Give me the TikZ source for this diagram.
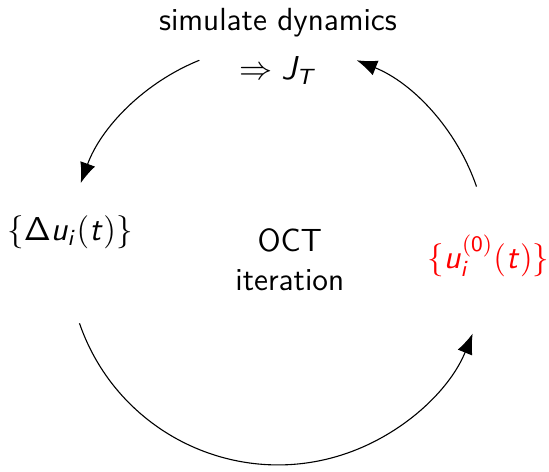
\documentclass[tikz,border=0pt,11pt]{standalone}
\usetikzlibrary{arrows.meta, calc}
\DeclareMathAlphabet{\mathsfit}{OT1}{cmss}{m}{sl}

\begin{document}
\begin{tikzpicture}[
    stage/.style={align=center, font=\fontsize{11.6}{13.9}\selectfont\sffamily},
    cyc/.style={-{Latex[length=2.6mm, width=2mm]}},
]
\useasboundingbox (-3.542,-2.892) rectangle (3.453,3.121);

% centre of the cycle
\coordinate (c) at (0,-0.127);

% Stages
\node[stage] (sim) at (0, 2.53) {simulate dynamics\\[4.2pt]$\Rightarrow \mathsfit{J_T}$};
\node[stage] (du) at (-2.65, 0.16) {$\{\mathsf{\Delta}\mathsfit{u_i}(\mathsfit{t})\}$};
\node[stage, text=red] (u0) at (2.68, -0.14) {$\{\mathsfit{u}_{\mathsfit{i}}^{\mathsf{(0)}}(\mathsfit{t})\}$};
\node[stage] (oct) at (0.15, -0.19) {OCT\\iteration};

% Arc end points
\coordinate (s1) at ($(c)+(112:2.675)$);
\coordinate (s2) at ($(c)+(199:2.675)$);
\coordinate (s3) at ($(c)+(19:2.675)$);

% Cycle
\draw[cyc] (s1) arc[start angle=112, end angle=160, radius=2.675];
\draw[cyc] (s2) arc[start angle=199, end angle=338, radius=2.675];
\draw[cyc] (s3) arc[start angle=19, end angle=68, radius=2.675];

\end{tikzpicture}
\end{document}
